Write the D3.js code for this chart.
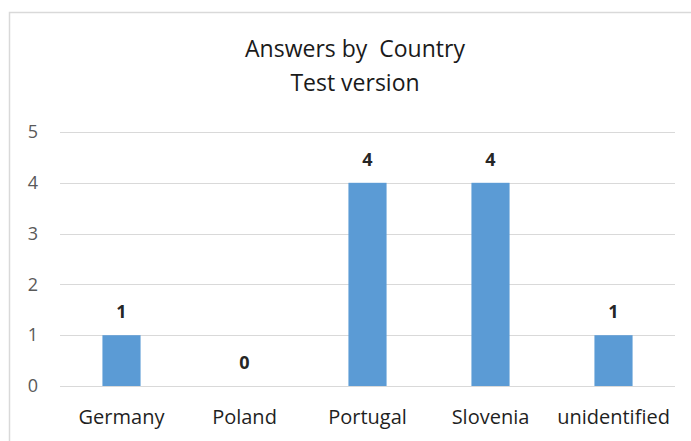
<!DOCTYPE html>
<html>
<head>
<meta charset="utf-8">
<script src="https://cdn.jsdelivr.net/npm/d3@7"></script>
<style>
  body { margin: 0; background: #fff; }
  svg { display: block; font-family: "Open Sans", "Liberation Sans", sans-serif; }
  .title { white-space: pre; }
</style>
</head>
<body>
<svg id="chart"></svg>
<script>
// Chart data
const countries = ["Germany", "Poland", "Portugal", "Slovenia", "unidentified"];
const answers = [1, 0, 4, 4, 1];
const yTicks = [0, 1, 2, 3, 4, 5];
const titleLines = ["Answers by  Country", "Test version"];

const width = 691;
const height = 441;
const margin = { top: 132, right: 16, bottom: 55, left: 60 };

const svg = d3.select("#chart")
              .attr("width", width)
              .attr("height", height);

// Outer chart border (cropped on the right and bottom)
svg.append("rect")
   .attr("x", 9.5)
   .attr("y", 12.5)
   .attr("width", width + 20)
   .attr("height", height + 20)
   .attr("fill", "none")
   .attr("stroke", "#d9d9d9")
   .attr("stroke-width", 1.5);

const x = d3.scaleBand()
            .domain(countries)
            .range([margin.left, width - margin.right])
            .paddingInner(0.69)
            .paddingOuter(0.345);

const y = d3.scaleLinear()
            .domain([0, 5])
            .range([height - margin.bottom, margin.top]);

// Gridlines
svg.append("g")
   .selectAll("line")
   .data(yTicks)
   .enter().append("line")
   .attr("x1", margin.left)
   .attr("x2", width - margin.right)
   .attr("y1", d => Math.round(y(d)) + 0.5)
   .attr("y2", d => Math.round(y(d)) + 0.5)
   .attr("stroke", "#d9d9d9")
   .attr("stroke-width", 1.2);

// Y axis labels
const yAxis = d3.axisLeft(y).tickValues(yTicks).tickFormat(d3.format("d")).tickSize(0).tickPadding(0);
const yG = svg.append("g")
   .attr("transform", `translate(${33},0)`)
   .call(yAxis);
yG.select(".domain").remove();
yG.selectAll("text")
  .attr("text-anchor", "middle")
  .attr("font-size", 18)
  .attr("font-family", "Open Sans, Liberation Sans, sans-serif")
  .attr("fill", "#595959");

// Bars
svg.append("g")
   .selectAll("rect")
   .data(countries)
   .enter().append("rect")
   .attr("x", d => x(d))
   .attr("y", (d, i) => y(answers[i]))
   .attr("width", x.bandwidth())
   .attr("height", (d, i) => y(0) - y(answers[i]))
   .attr("fill", "#5b9bd5");

// Value labels
svg.append("g")
   .selectAll("text")
   .data(countries)
   .enter().append("text")
   .attr("x", d => x(d) + x.bandwidth() / 2)
   .attr("y", (d, i) => y(answers[i]) - 17)
   .attr("text-anchor", "middle")
   .attr("font-size", 18)
   .attr("font-weight", "bold")
   .attr("fill", "#262626")
   .text((d, i) => answers[i]);

// Category labels
const xAxis = d3.axisBottom(x).tickSize(0).tickPadding(0);
const xG = svg.append("g")
   .attr("transform", `translate(0,${height - margin.bottom})`)
   .call(xAxis);
xG.select(".domain").remove();
xG.selectAll("text")
  .attr("dy", null)
  .attr("y", 38)
  .attr("font-size", 20)
  .attr("font-family", "Open Sans, Liberation Sans, sans-serif")
  .attr("fill", "#1f1f1f");

// Title
svg.append("g")
   .selectAll("text")
   .data(titleLines)
   .enter().append("text")
   .attr("class", "title")
   .attr("x", 355)
   .attr("y", (d, i) => 57 + i * 34)
   .attr("text-anchor", "middle")
   .attr("font-size", 23)
   .attr("fill", "#1a1a1a")
   .text(d => d);
</script>
</body>
</html>
